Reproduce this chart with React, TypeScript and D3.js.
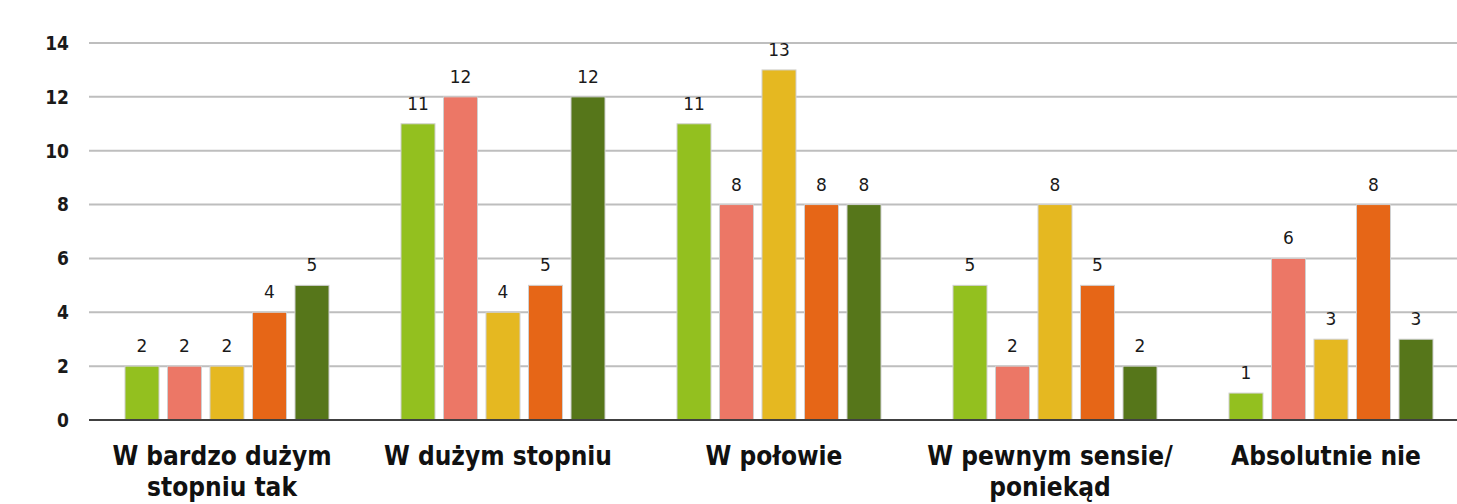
import React from "react";
import * as d3 from "d3";

const categories = [
  ["W bardzo dużym", "stopniu tak"],
  ["W dużym stopniu"],
  ["W połowie"],
  ["W pewnym sensie/", "poniekąd"],
  ["Absolutnie nie"],
];
const seriesNames = ["s1", "s2", "s3", "s4", "s5"];
const seriesColors = ["#93C01F", "#EC7766", "#E5B821", "#E66617", "#56761A"];
const values = [
  [2, 2, 2, 4, 5],
  [11, 12, 4, 5, 12],
  [11, 8, 13, 8, 8],
  [5, 2, 8, 5, 2],
  [1, 6, 3, 8, 3],
];
const yTicks = [0, 2, 4, 6, 8, 10, 12, 14];

const W = 1457;
const H = 504;
const left = 89;
const right = 1469;
const top = 43;
const bottom = 420;

export default function App() {
  const x0 = d3
    .scaleBand<number>()
    .domain(d3.range(categories.length))
    .range([left, right])
    .paddingInner(0)
    .paddingOuter(0);
  const groupW = 204;
  const x1 = d3
    .scaleBand<number>()
    .domain(d3.range(seriesNames.length))
    .range([0, groupW])
    .paddingInner(0.2)
    .paddingOuter(0);
  const y = d3.scaleLinear().domain([0, 14]).range([bottom, top]);
  const font = "'DejaVu Sans', Verdana, sans-serif";
  const condensed = "'DejaVu Sans Condensed', 'DejaVu Sans', sans-serif";

  return (
    <svg
      width={W}
      height={H}
      style={{ position: "absolute", left: 0, top: 0, background: "#fff" }}
      fontFamily={font}
    >
      {yTicks.map((t) => (
        <g key={t}>
          {t !== 0 && (
            <line x1={left} x2={W} y1={y(t)} y2={y(t)} stroke="#BEBEBE" strokeWidth={2} />
          )}
          <text
            x={69}
            y={y(t)}
            dy="0.36em"
            textAnchor="end"
            fontSize={19}
            fontFamily={condensed}
            fontWeight="bold"
            fill="#1a1a1a"
          >
            {t}
          </text>
        </g>
      ))}
      {values.map((row, ci) => {
        const gx = (x0(ci) as number) + (x0.bandwidth() - groupW) / 2;
        return (
          <g key={ci} transform={`translate(${gx},0)`}>
            {row.map((v, si) => (
              <g key={si}>
                <rect
                  x={x1(si)}
                  y={y(v)}
                  width={x1.bandwidth()}
                  height={y(0) - y(v)}
                  fill={seriesColors[si]}
                  stroke="#D0D0D0"
                  strokeWidth={1}
                />
                <text
                  x={(x1(si) as number) + x1.bandwidth() / 2}
                  y={y(v) - 14}
                  textAnchor="middle"
                  fontSize={17}
                  fill="#1a1a1a"
                >
                  {v}
                </text>
              </g>
            ))}
          </g>
        );
      })}
      <line x1={left} x2={W} y1={bottom} y2={bottom} stroke="#404040" strokeWidth={2} />
      {categories.map((lines, ci) => {
        const cx = (x0(ci) as number) + x0.bandwidth() / 2 - 5;
        return (
          <text
            key={ci}
            textAnchor="middle"
            fontSize={26}
            fontFamily={condensed}
            fontWeight="bold"
            fill="#111"
          >
            {lines.map((l, li) => (
              <tspan key={li} x={cx} y={465 + li * 31}>
                {l}
              </tspan>
            ))}
          </text>
        );
      })}
    </svg>
  );
}
